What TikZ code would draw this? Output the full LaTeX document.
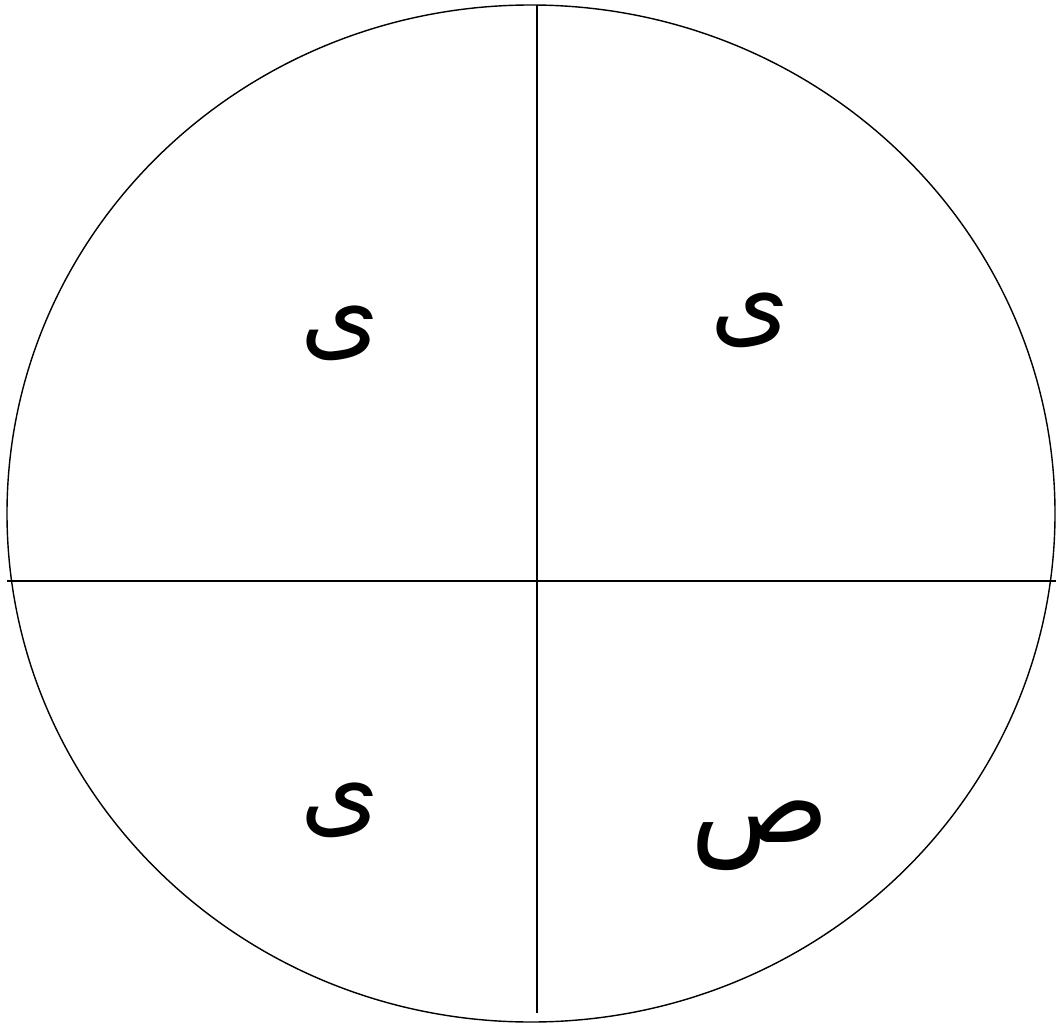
\documentclass[tikz,border=0pt]{standalone}
\usepackage{fontspec}
\newfontfamily\arabicfont[Script=Arabic]{DejaVu Sans}
\TeXXeTstate=1

\begin{document}
\begin{tikzpicture}[x=0.025cm,y=-0.025cm,line width=1pt,
  letter/.style={font=\arabicfont\fontsize{72}{86}\selectfont,inner sep=0pt}]
    \useasboundingbox (0,0) rectangle (1057,1024);
    \draw (531,513.5) ellipse [x radius=524, y radius=508.5];
    \coordinate (top) at (537,5);
    \coordinate (bottom) at (537,1013);
    \coordinate (left) at (7,581);
    \coordinate (right) at (1056,581);
    \draw (top) -- (bottom);
    \draw (left) -- (right);
    \node[letter] (yeh-tl) at (340,333) {\beginR ی\endR};
    \node[letter] (yeh-tr) at (750,320) {\beginR ی\endR};
    \node[letter] (yeh-bl) at (340,810) {\beginR ی\endR};
    \node[letter,font=\arabicfont\fontsize{82}{96}\selectfont] (sad-br) at (760,836) {\beginR ص\endR};
\end{tikzpicture}
\end{document}
